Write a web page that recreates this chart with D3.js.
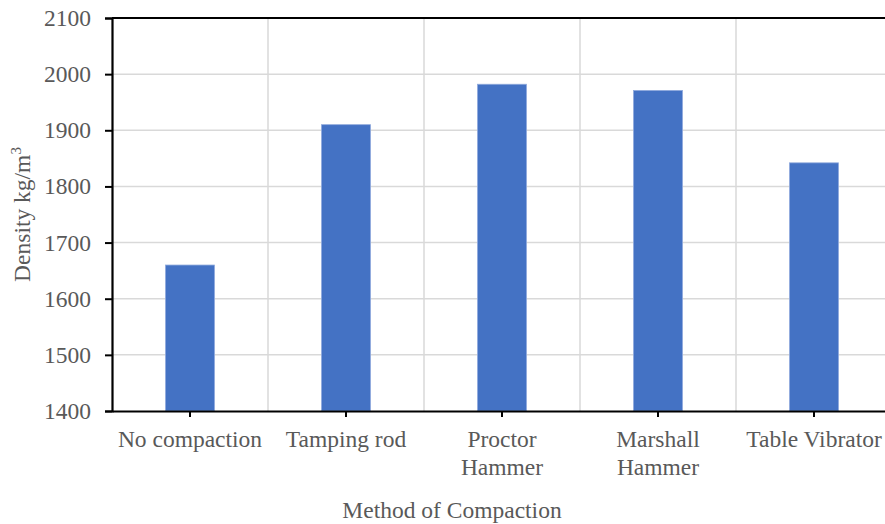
<!DOCTYPE html>
<html>
<head>
<meta charset="utf-8">
<script src="https://cdn.jsdelivr.net/npm/d3@7"></script>
<style>
  body { margin: 0; background: #fff; }
  svg text { font-family: "Liberation Serif", "Times New Roman", serif !important; fill: #595959; }
</style>
</head>
<body>
<div id="chart"></div>
<script>
const methods = ["No compaction", "Tamping rod", "Proctor\nHammer", "Marshall\nHammer", "Table Vibrator"];
const densities = [1660, 1910, 1982, 1971, 1842];
const yTicks = [1400, 1500, 1600, 1700, 1800, 1900, 2000, 2100];

// Chart dimensions
const width = 885;
const height = 524;
const margin = { top: 18, left: 112, bottom: 113 };
const bandWidth = 156;
const fontSize = 23.5;

const svg = d3.select("#chart").append("svg")
  .attr("width", width)
  .attr("height", height)
  .attr("font-family", "Liberation Serif");

const x = d3.scaleBand()
  .domain(methods)
  .range([margin.left, margin.left + bandWidth * methods.length])
  .paddingInner(0.686)
  .paddingOuter(0.343);

const xCat = d3.scaleBand()
  .domain(methods)
  .range([margin.left, margin.left + bandWidth * methods.length]);

const y = d3.scaleLinear()
  .domain([1400, 2100])
  .range([height - margin.bottom, margin.top]);

const plotRight = margin.left + bandWidth * methods.length;

// Gridlines
svg.append("g").selectAll("line").data(yTicks.slice(1, -1)).join("line")
  .attr("x1", margin.left).attr("x2", plotRight)
  .attr("y1", d => y(d)).attr("y2", d => y(d))
  .attr("stroke", "#d9d9d9").attr("stroke-width", 1.5);

svg.append("g").selectAll("line").data(methods.slice(1)).join("line")
  .attr("x1", d => xCat(d)).attr("x2", d => xCat(d))
  .attr("y1", margin.top).attr("y2", y(1400))
  .attr("stroke", "#d9d9d9").attr("stroke-width", 1.5);

// Bars
svg.append("g").selectAll("rect").data(methods).join("rect")
  .attr("x", d => x(d))
  .attr("width", x.bandwidth())
  .attr("y", (d, i) => y(densities[i]))
  .attr("height", (d, i) => y(1400) - y(densities[i]))
  .attr("fill", "#4472C4")
  .attr("stroke", "#8FAADC")
  .attr("stroke-width", 0.8);

// Top border
svg.append("line")
  .attr("x1", margin.left).attr("x2", plotRight)
  .attr("y1", y(2100)).attr("y2", y(2100))
  .attr("stroke", "#000").attr("stroke-width", 2);

// Y axis
const yAxis = svg.append("g")
  .attr("transform", `translate(${margin.left},0)`)
  .call(d3.axisLeft(y).tickValues(yTicks).tickSize(7).tickPadding(14).tickFormat(d3.format("d")))
  .attr("font-family", null)
  .attr("font-size", null);
yAxis.select(".domain").attr("stroke", "#000").attr("stroke-width", 2.2);
yAxis.selectAll(".tick line").attr("stroke", "#000").attr("stroke-width", 2);
yAxis.selectAll(".tick text")
  .attr("font-size", fontSize)
  .attr("fill", "#595959");

// X axis
const xAxis = svg.append("g")
  .attr("transform", `translate(0,${y(1400)})`)
  .call(d3.axisBottom(xCat).tickSize(6).tickSizeOuter(0).tickFormat(""));
xAxis.select(".domain").attr("stroke", "#000").attr("stroke-width", 2.2);
xAxis.selectAll(".tick line").attr("stroke", "#000").attr("stroke-width", 2);

// X labels (multi-line)
const labels = svg.append("g").selectAll("text").data(methods).join("text")
  .attr("x", d => xCat(d) + xCat.bandwidth() / 2)
  .attr("y", 447)
  .attr("text-anchor", "middle")
  .attr("font-size", fontSize);
labels.selectAll("tspan").data(d => d.split("\n")).join("tspan")
  .attr("x", function() { return this.parentNode.getAttribute("x"); })
  .attr("dy", (d, i) => i === 0 ? 0 : 28)
  .text(d => d);

// Axis titles
svg.append("text")
  .attr("x", 452)
  .attr("y", 518)
  .attr("text-anchor", "middle")
  .attr("font-size", fontSize)
  .text("Method of Compaction");

const yTitle = svg.append("text")
  .attr("transform", `translate(30,${(margin.top + y(1400)) / 2}) rotate(-90)`)
  .attr("text-anchor", "middle")
  .attr("font-size", fontSize);
yTitle.append("tspan").text("Density kg/m");
yTitle.append("tspan").attr("dy", -9).attr("font-size", 15).text("3");
</script>
</body>
</html>
